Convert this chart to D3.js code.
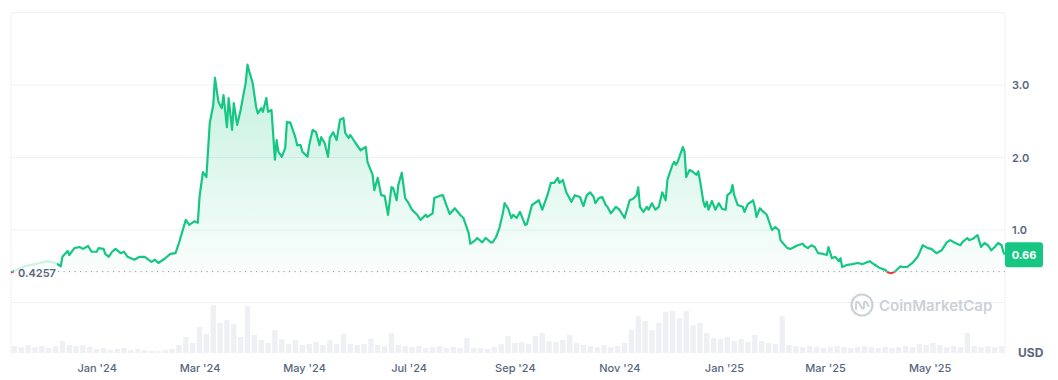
<!DOCTYPE html>
<html>
<head>
<meta charset="utf-8">
<script src="https://cdn.jsdelivr.net/npm/d3@7/dist/d3.min.js"></script>
<style>
    html, body { margin: 0; padding: 0; background: #fff; }
    svg { display: block; font-family: Inter, "Noto Sans", sans-serif; }
</style>
</head>
<body>
<div id="chart"></div>
<script>
/*
 * Data
 * */

// price: days since 2023-11-12 and close price (USD)
var priceDays = [0, 8, 17, 21, 26, 29, 30, 33, 34, 37, 40, 42, 45, 47, 50, 51, 54, 55, 57, 59, 61, 64, 66, 68, 72, 75, 78, 82, 84, 86, 90, 93, 96, 98,
    102, 104, 107, 109, 110, 112, 114, 116, 118, 119, 121, 123, 124, 126, 127, 129, 130, 132, 134, 137, 138, 139, 141, 143, 144, 146, 147, 149, 150, 152,
    154, 155, 156, 158, 160, 161, 163, 166, 167, 169, 170, 173, 174, 176, 178, 180, 181, 183, 185, 186, 188, 190, 192, 194, 195, 197,
    198, 201, 204, 207, 208, 211, 212, 214, 216, 218, 220, 222, 223, 225, 226, 228, 230, 232, 234, 237, 239, 242, 243, 246, 247, 250, 252, 254, 256,
    259, 262, 264, 267, 268, 271, 272, 275, 277, 280, 281, 283, 285, 287, 288, 290, 292, 293, 295, 297,
    300, 301, 304, 308, 310, 313, 315, 317, 319, 320, 322, 324, 327, 329, 332, 334, 336, 338, 340, 341, 343, 345, 347, 348, 350, 353, 355, 358,
    361, 363, 365, 366, 367, 369, 371, 372, 374, 376, 378, 380, 382, 383, 386, 387, 388, 389, 392, 393, 394, 396,
    398, 400, 401, 402, 404, 405, 406, 407, 409, 411, 413, 415, 417, 418, 420, 421, 422, 424, 427, 428, 430, 432, 433, 434, 435, 437, 439, 441, 442,
    444, 446, 448, 449, 450, 453, 455, 457, 459, 462, 463, 465, 467, 469, 471, 474, 476, 477, 479, 481, 483, 484, 485, 488, 491, 494, 497, 501, 504,
    507, 510, 512, 514, 516, 519, 520, 523, 526, 529, 530, 532, 535, 537, 540, 543, 546, 548, 551, 554, 555, 558, 559, 561, 564, 566, 568, 570, 572,
    574, 576, 578, 579, 580];

var priceValues = [0.415, 0.50, 0.545, 0.57, 0.545, 0.50, 0.63, 0.71, 0.655, 0.75, 0.765, 0.74, 0.78, 0.70, 0.70, 0.75, 0.74, 0.67, 0.63, 0.70, 0.74, 0.68, 0.70, 0.63, 0.59, 0.63, 0.63, 0.56, 0.59, 0.545, 0.61, 0.67, 0.68, 0.82,
    1.14, 1.07, 1.12, 1.10, 1.455, 1.80, 1.73, 2.48, 2.72, 3.10, 2.77, 2.68, 2.86, 2.42, 2.82, 2.38, 2.75, 2.45, 2.655, 3.04, 3.28, 3.19, 3.03, 2.70, 2.61, 2.68, 2.63, 2.82, 2.63, 2.655,
    1.97, 2.24, 2.08, 2.01, 2.13, 2.49, 2.48, 2.27, 2.17, 2.17, 2.08, 2.01, 2.17, 2.38, 2.35, 2.17, 2.28, 2.20, 2.01, 2.27, 2.35, 2.24, 2.52, 2.545, 2.34, 2.27,
    2.31, 2.20, 2.10, 2.145, 1.94, 1.76, 1.55, 1.72, 1.48, 1.47, 1.21, 1.59, 1.58, 1.41, 1.62, 1.79, 1.44, 1.37, 1.28, 1.21, 1.14, 1.21, 1.18, 1.23, 1.44, 1.47, 1.48, 1.345, 1.22,
    1.30, 1.21, 1.165, 0.96, 0.81, 0.86, 0.89, 0.83, 0.89, 0.83, 0.83, 0.90, 1.03, 1.23, 1.37, 1.30, 1.165, 1.21, 1.165, 1.25,
    1.07, 1.08, 1.345, 1.41, 1.28, 1.48, 1.65, 1.65, 1.72, 1.65, 1.69, 1.52, 1.39, 1.48, 1.455, 1.33, 1.48, 1.52, 1.455, 1.37, 1.44, 1.455, 1.345, 1.32, 1.23, 1.32, 1.28, 1.165,
    1.41, 1.43, 1.48, 1.59, 1.32, 1.25, 1.32, 1.28, 1.37, 1.28, 1.32, 1.52, 1.41, 1.69, 1.90, 1.94, 1.90, 1.94, 2.145, 2.08, 1.73, 1.83,
    1.80, 1.76, 1.81, 1.69, 1.39, 1.32, 1.39, 1.28, 1.40, 1.28, 1.37, 1.29, 1.28, 1.48, 1.52, 1.62, 1.48, 1.345, 1.32, 1.25, 1.36, 1.39, 1.41, 1.32, 1.18, 1.30, 1.25, 1.21, 1.14,
    1.00, 1.04, 1.00, 0.86, 0.83, 0.75, 0.74, 0.765, 0.79, 0.81, 0.78, 0.75, 0.79, 0.765, 0.68, 0.67, 0.655, 0.765, 0.61, 0.63, 0.57, 0.61, 0.49, 0.52, 0.53, 0.545, 0.53, 0.57, 0.52,
    0.475, 0.45, 0.41, 0.405, 0.43, 0.50, 0.49, 0.49, 0.545, 0.63, 0.68, 0.79, 0.75, 0.74, 0.68, 0.72, 0.83, 0.86, 0.82, 0.79, 0.83, 0.89, 0.86, 0.875, 0.93, 0.765, 0.82, 0.79, 0.72,
    0.765, 0.82, 0.79, 0.70, 0.66];

// volume: one value per 4-day bucket (M USD)
var volumeStepDays = 4;
var volumeValues = [7, 6, 8, 6, 7, 5, 7, 12, 8, 7, 8, 6, 4, 5, 3, 4, 5, 3, 4, 3,
    2, 2, 3, 4, 8, 16, 10, 26, 19, 48, 30, 33, 29, 16, 47, 18, 13, 10, 23, 14,
    9, 13, 8, 9, 11, 8, 13, 9, 19, 9, 8, 9, 14, 8, 7, 20, 8, 7, 6, 7,
    5, 6, 7, 5, 6, 5, 15, 5, 5, 4, 6, 9, 17, 10, 11, 9, 17, 20, 12, 11,
    13, 18, 10, 8, 7, 6, 8, 6, 7, 10, 23, 37, 32, 23, 30, 41, 42, 35, 42, 28,
    30, 20, 15, 14, 16, 12, 14, 11, 18, 12, 10, 9, 37, 8, 7, 6, 7, 6, 5, 6,
    7, 6, 5, 6, 7, 6, 5, 6, 5, 6, 7, 6, 9, 8, 10, 8, 6, 7, 6, 20,
    7, 6, 7, 6, 7];

var startDate = new Date(Date.UTC(2023, 10, 12));
var endDate = new Date(Date.UTC(2025, 5, 14));
var baseValue = 0.4257;
var lastValue = 0.66;
var priceTicks = [1, 2, 3];
var gridValues = [0, 1, 2, 3, 4];
var volumeMax = 50;

var green = '#16c784',
    red = '#ea3943',
    grey = '#58667e',
    gridColour = '#eff2f5';

/*
 * Helpers
 * */

function addDays(days) {
    return new Date(startDate.getTime() + days * 86400000);
}

/*
 * Chart
 * */

function drawChart() {
    var width = 1058,
        height = 380,
        left = 11,
        right = 1005;

    var points = priceDays.map(function (d, i) {
        return { date: addDays(d), value: priceValues[i] };
    });

    var x = d3.scaleUtc().domain([startDate, endDate]).range([left, right]);
    var y = d3.scaleLinear().domain([0, 4]).range([302.5, 12.5]);
    var yVol = d3.scaleLinear().domain([0, volumeMax]).range([353, 303]);
    var baseY = y(baseValue);

    var svg = d3.select('#chart').append('svg')
        .attr('width', width)
        .attr('height', height);

    var defs = svg.append('defs');

    var grad = defs.append('linearGradient')
        .attr('id', 'fillGreen')
        .attr('gradientUnits', 'userSpaceOnUse')
        .attr('x1', 0).attr('x2', 0)
        .attr('y1', y(3.3)).attr('y2', baseY);
    grad.append('stop').attr('offset', '0%').attr('stop-color', green).attr('stop-opacity', 0.26);
    grad.append('stop').attr('offset', '100%').attr('stop-color', green).attr('stop-opacity', 0.02);

    defs.append('clipPath').attr('id', 'clipAbove')
        .append('rect').attr('x', 0).attr('y', 0).attr('width', width).attr('height', baseY);
    defs.append('clipPath').attr('id', 'clipBelow')
        .append('rect').attr('x', 0).attr('y', baseY).attr('width', width).attr('height', height - baseY);

    // gridlines
    svg.append('g').selectAll('line')
        .data(gridValues)
        .join('line')
        .attr('x1', left).attr('x2', right)
        .attr('y1', function (d) { return y(d); })
        .attr('y2', function (d) { return y(d); })
        .attr('stroke', gridColour)
        .attr('stroke-width', 1);

    // frame sides
    svg.append('g').selectAll('line')
        .data([left, right])
        .join('line')
        .attr('x1', function (d) { return d; })
        .attr('x2', function (d) { return d; })
        .attr('y1', y(4)).attr('y2', 355)
        .attr('stroke', gridColour)
        .attr('stroke-width', 1);

    // volume bars
    var barW = x(addDays(volumeStepDays)) - x(startDate);
    svg.append('g').selectAll('rect')
        .data(volumeValues)
        .join('rect')
        .attr('x', function (d, i) { return x(addDays(i * volumeStepDays)) + 0.75; })
        .attr('width', barW - 1.5)
        .attr('y', function (d) { return yVol(d); })
        .attr('height', function (d) { return yVol(0) - yVol(d); })
        .attr('fill', '#eef0f4');

    // watermark
    var wm = svg.append('g').attr('transform', 'translate(862,305)');
    wm.append('circle').attr('r', 10.5).attr('fill', 'none').attr('stroke', '#cdd1d8').attr('stroke-width', 2.2);
    wm.append('path')
        .attr('d', 'M-6,4 L-6,-1 Q-5.5,-5 -3,-2 L0,3 Q1.5,5 2,2 L2,-2 Q3,-5 5,-2 L6.5,1')
        .attr('fill', 'none').attr('stroke', '#cdd1d8').attr('stroke-width', 2)
        .attr('stroke-linecap', 'round').attr('stroke-linejoin', 'round');
    wm.append('text')
        .attr('x', 17).attr('y', 0)
        .attr('dominant-baseline', 'central')
        .attr('font-size', 15)
        .attr('font-weight', 600)
        .attr('fill', '#cdd1d8')
        .text('CoinMarketCap');

    // price area + line
    var area = d3.area()
        .x(function (d) { return x(d.date); })
        .y0(baseY)
        .y1(function (d) { return y(d.value); });
    var line = d3.line()
        .x(function (d) { return x(d.date); })
        .y(function (d) { return y(d.value); });

    svg.append('path').datum(points)
        .attr('clip-path', 'url(#clipAbove)')
        .attr('fill', 'url(#fillGreen)')
        .attr('d', area);
    svg.append('path').datum(points)
        .attr('clip-path', 'url(#clipBelow)')
        .attr('fill', red)
        .attr('fill-opacity', 0.08)
        .attr('d', area);

    svg.append('path').datum(points)
        .attr('clip-path', 'url(#clipAbove)')
        .attr('fill', 'none')
        .attr('stroke', green)
        .attr('stroke-width', 2.2)
        .attr('stroke-linejoin', 'round')
        .attr('d', line);
    svg.append('path').datum(points)
        .attr('clip-path', 'url(#clipBelow)')
        .attr('fill', 'none')
        .attr('stroke', red)
        .attr('stroke-width', 2.2)
        .attr('stroke-linejoin', 'round')
        .attr('d', line);

    // base value: dotted line + label
    svg.append('line')
        .attr('x1', 58).attr('x2', right)
        .attr('y1', baseY).attr('y2', baseY)
        .attr('stroke', '#8f98a8')
        .attr('stroke-width', 1)
        .attr('stroke-dasharray', '1.2,4.3');
    svg.append('rect')
        .attr('x', 14).attr('y', baseY - 14)
        .attr('width', 43).attr('height', 25)
        .attr('fill', '#fff').attr('fill-opacity', 0.78);
    svg.append('text')
        .attr('x', 18).attr('y', baseY + 1)
        .attr('dominant-baseline', 'central')
        .attr('font-size', 11)
        .attr('font-weight', 600)
        .attr('fill', grey)
        .text(d3.format('.4f')(baseValue));

    // right axis
    var yAxis = svg.append('g')
        .attr('transform', 'translate(' + right + ',0)')
        .call(d3.axisRight(y).tickValues(priceTicks).tickFormat(d3.format('.1f')).tickSize(0).tickPadding(7));
    yAxis.select('.domain').remove();
    yAxis.selectAll('text')
        .attr('font-family', 'Inter, sans-serif')
        .attr('font-size', 11)
        .attr('font-weight', 600)
        .attr('fill', grey);

    // last price tag
    var tag = svg.append('g').attr('transform', 'translate(' + right + ',' + y(lastValue) + ')');
    tag.append('rect')
        .attr('x', 0).attr('y', -12.5)
        .attr('width', 38).attr('height', 25)
        .attr('rx', 3)
        .attr('fill', green);
    tag.append('text')
        .attr('x', 19).attr('y', 0.5)
        .attr('text-anchor', 'middle')
        .attr('dominant-baseline', 'central')
        .attr('font-size', 11)
        .attr('font-weight', 700)
        .attr('fill', '#fff')
        .text(d3.format('.2f')(lastValue));

    // bottom axis
    var xAxis = svg.append('g')
        .attr('transform', 'translate(0,360)')
        .call(d3.axisBottom(x).ticks(d3.utcMonth.every(2)).tickFormat(d3.utcFormat("%b '%y")).tickSize(0).tickPadding(4));
    xAxis.select('.domain').remove();
    xAxis.selectAll('text')
        .attr('font-family', 'Inter, sans-serif')
        .attr('font-size', 11)
        .attr('font-weight', 500)
        .attr('fill', grey);

    svg.append('text')
        .attr('x', 1018).attr('y', 352)
        .attr('dominant-baseline', 'central')
        .attr('font-size', 12)
        .attr('font-weight', 700)
        .attr('fill', grey)
        .text('USD');
}

drawChart();
</script>
</body>
</html>
